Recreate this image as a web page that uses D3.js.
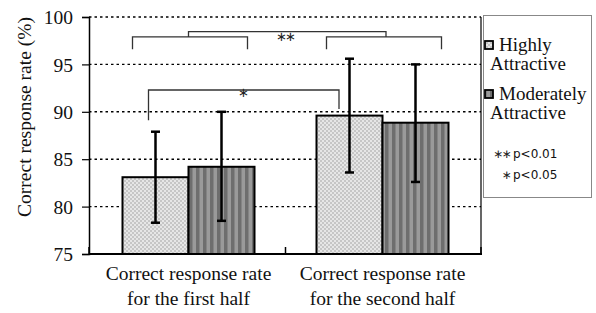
<!DOCTYPE html>
<html>
<head>
<meta charset="utf-8">
<script src="https://cdn.jsdelivr.net/npm/d3@7"></script>
<style>
  body { margin: 0; background: #fff; }
  svg { display: block; }
</style>
</head>
<body>
<svg width="596" height="313"></svg>
<script>
const categories = ["first", "second"];
const catLines = [
  ["Correct response rate", "for the first half"],
  ["Correct response rate", "for the second half"]
];
const series = ["Highly Attractive", "Moderately Attractive"];
const means = [[83.1, 84.2], [89.6, 88.85]];
const lower = [[78.3, 78.5], [83.6, 82.6]];
const upper = [[87.9, 90.0], [95.6, 95.0]];
const yTicks = [75, 80, 85, 90, 95, 100];

const svg = d3.select("svg");
const serif = "'Liberation Serif', 'Times New Roman', serif";

const plotL = 89, plotR = 481, plotT = 17, plotB = 254;

const y = d3.scaleLinear().domain([75, 100]).range([plotB, plotT]);
const x0 = d3.scaleBand().domain(categories).range([91.5, 479.5]);
const x1 = d3.scaleBand().domain(series).range([-66, 66]);
const cx = (c) => x0(c) + x0.bandwidth() / 2;

// patterns
const defs = svg.append("defs");
const dots = defs.append("pattern").attr("id", "dots")
  .attr("width", 4).attr("height", 4).attr("patternUnits", "userSpaceOnUse");
dots.append("rect").attr("width", 4).attr("height", 4).attr("fill", "#e6e6e6");
dots.append("rect").attr("width", 2).attr("height", 2).attr("fill", "#c6c6c6");
dots.append("rect").attr("x", 2).attr("y", 2).attr("width", 2).attr("height", 2).attr("fill", "#c6c6c6");

const stripes = defs.append("pattern").attr("id", "stripes")
  .attr("width", 7).attr("height", 7).attr("patternUnits", "userSpaceOnUse");
stripes.append("rect").attr("width", 7).attr("height", 7).attr("fill", "#9a9a9a");
stripes.append("rect").attr("width", 3.5).attr("height", 7).attr("fill", "#6e6e6e");

const fills = ["url(#dots)", "url(#stripes)"];

// gridlines
svg.append("g")
  .selectAll("line")
  .data(yTicks.filter((t) => t > 75))
  .join("line")
  .attr("x1", plotL).attr("x2", plotR)
  .attr("y1", (d) => y(d)).attr("y2", (d) => y(d))
  .attr("stroke", "#000").attr("stroke-width", 1.4)
  .attr("stroke-dasharray", "2.5,3");

// y axis
const yAxis = svg.append("g")
  .attr("transform", `translate(${plotL},0)`)
  .call(d3.axisLeft(y).tickValues(yTicks).tickSize(7).tickPadding(9));
yAxis.select(".domain").attr("stroke", "#000").attr("stroke-width", 1.5);
yAxis.selectAll(".tick line").attr("stroke", "#000").attr("stroke-width", 1.2);
yAxis.selectAll("text")
  .attr("font-family", serif).attr("font-size", 19.5).attr("fill", "#111")
  .attr("dy", "0.34em");

// right border
svg.append("line")
  .attr("x1", plotR).attr("x2", plotR).attr("y1", plotT).attr("y2", plotB)
  .attr("stroke", "#000").attr("stroke-width", 1.2);

// y title
svg.append("text")
  .attr("transform", "translate(31,117) rotate(-90)")
  .attr("text-anchor", "middle")
  .attr("font-family", serif).attr("font-size", 19.5).attr("fill", "#111")
  .text("Correct response rate (%)");

// bars
const cells = [];
categories.forEach((c, i) => series.forEach((s, j) => {
  cells.push({ c, s, j, m: means[i][j], lo: lower[i][j], hi: upper[i][j] });
}));

svg.append("g")
  .selectAll("rect")
  .data(cells)
  .join("rect")
  .attr("x", (d) => cx(d.c) + x1(d.s))
  .attr("y", (d) => y(d.m))
  .attr("width", x1.bandwidth())
  .attr("height", (d) => y(75) - y(d.m))
  .attr("fill", (d) => fills[d.j])
  .attr("stroke", "#000").attr("stroke-width", 2);

// error bars
const eb = svg.append("g").selectAll("g").data(cells).join("g")
  .attr("transform", (d) => `translate(${cx(d.c) + x1(d.s) + x1.bandwidth() / 2},0)`);
eb.append("line")
  .attr("y1", (d) => y(d.lo)).attr("y2", (d) => y(d.hi))
  .attr("stroke", "#000").attr("stroke-width", 2.5);
eb.append("line")
  .attr("x1", -4.5).attr("x2", 4.5)
  .attr("y1", (d) => y(d.hi)).attr("y2", (d) => y(d.hi))
  .attr("stroke", "#000").attr("stroke-width", 2.5);
eb.append("line")
  .attr("x1", -4.5).attr("x2", 4.5)
  .attr("y1", (d) => y(d.lo)).attr("y2", (d) => y(d.lo))
  .attr("stroke", "#000").attr("stroke-width", 2.5);

// bottom axis
svg.append("line")
  .attr("x1", plotL).attr("x2", plotR + 1).attr("y1", plotB).attr("y2", plotB)
  .attr("stroke", "#000").attr("stroke-width", 2);
svg.append("g")
  .selectAll("line")
  .data([plotL, x0(categories[1]), plotR])
  .join("line")
  .attr("x1", (d) => d).attr("x2", (d) => d)
  .attr("y1", plotB).attr("y2", plotB - 7)
  .attr("stroke", "#000").attr("stroke-width", 1.5);

// category labels
const cl = svg.append("g").selectAll("text").data(categories).join("text")
  .attr("text-anchor", "middle")
  .attr("font-family", serif).attr("font-size", 19.5).attr("fill", "#111");
cl.selectAll("tspan")
  .data((d, i) => catLines[i].map((t) => ({ t, x: cx(d) })))
  .join("tspan")
  .attr("x", (d) => d.x)
  .attr("y", (d, k) => 280 + k * 25)
  .text((d) => d.t);

// significance brackets
const br = svg.append("g").attr("fill", "none").attr("stroke", "#333").attr("stroke-width", 1.3);
const bracket = (xa, xb, yTop, yL, yR) =>
  br.append("path").attr("d", `M${xa},${y(yL)}V${y(yTop)}H${xb}V${y(yR)}`);

const c1 = cx(categories[0]), c2 = cx(categories[1]);
bracket(c1 - 56, c1 + 59, 97.9, 96.6, 96.6);
bracket(c2 - 56, c2 + 59, 97.9, 96.6, 96.6);
bracket(c1, c2 + 3.5, 98.45, 97.9, 97.9);
bracket(c1 - 40, c2 - 43.5, 92.3, 89.1, 90.3);

const star = "'Noto Sans CJK JP', 'DejaVu Sans', sans-serif";
svg.append("text").attr("x", (c1 + c2) / 2 - 0.5).attr("y", y(97.5))
  .attr("text-anchor", "middle").attr("font-family", star).attr("font-size", 13)
  .attr("letter-spacing", -2)
  .attr("fill", "#222").text("∗∗");
svg.append("text").attr("x", (c1 + c2 - 84) / 2).attr("y", y(91.6))
  .attr("text-anchor", "middle").attr("font-family", star).attr("font-size", 13)
  .attr("fill", "#222").text("∗");

// legend
const lg = svg.append("g");
lg.append("rect").attr("x", 483.5).attr("y", 15.5).attr("width", 108).attr("height", 182)
  .attr("fill", "#fff").attr("stroke", "#888").attr("stroke-width", 1);

const legendRows = [51, 100];
series.forEach((s, j) => {
  const b1 = legendRows[j];
  lg.append("rect").attr("x", 485).attr("y", b1 - 10).attr("width", 8).attr("height", 8)
    .attr("fill", fills[j]).attr("stroke", "#000").attr("stroke-width", 1.8);
  const words = s.split(" ");
  const t = lg.append("text")
    .attr("font-family", serif).attr("font-size", 19).attr("fill", "#111");
  t.append("tspan").attr("x", 499).attr("y", b1).text(words[0]);
  t.append("tspan").attr("x", 490).attr("y", b1 + 19).text(words[1]);
});

const sig = [["∗∗", "p<0.01", 158], ["∗", "p<0.05", 179]];
sig.forEach(([m, t, yy]) => {
  lg.append("text").attr("x", 510).attr("y", yy).attr("text-anchor", "end")
    .attr("font-family", star).attr("font-size", 12).attr("letter-spacing", -1.5)
    .attr("fill", "#222").text(m);
  lg.append("text").attr("x", 513).attr("y", yy)
    .attr("font-family", "'DejaVu Sans', Verdana, sans-serif").attr("font-size", 12)
    .attr("fill", "#111").text(t);
});
</script>
</body>
</html>
